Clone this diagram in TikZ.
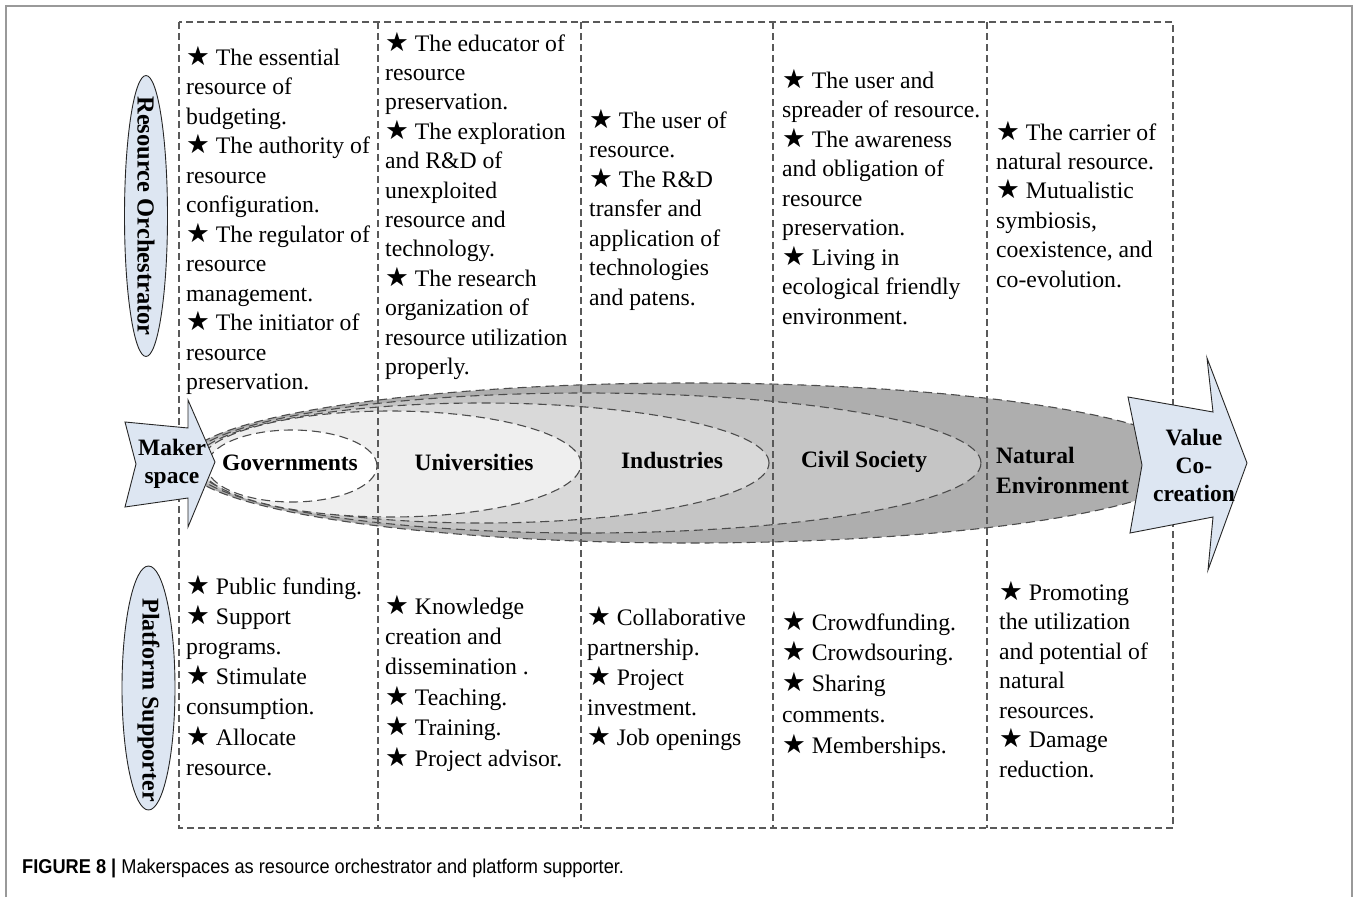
\documentclass[tikz,border=0pt]{standalone}
\usepackage{fontspec}
\setmainfont{Liberation Serif}
\newfontfamily\capfont[FakeStretch=0.91]{Liberation Sans}
\newfontfamily\symfont{DejaVu Sans}
\usetikzlibrary{shapes.geometric}
% star bullet followed by a word space
\newcommand\st{{\symfont\scalebox{1.12}{\char"2605}}\ }
% left-aligned block whose baseline is the first line
\newcommand\blk[1]{\begin{tabular}[t]{@{}l@{}}#1\end{tabular}}
\definecolor{roleblue}{RGB}{221,230,242}
\definecolor{gA}{RGB}{255,255,255}
\definecolor{gB}{RGB}{239,239,239}
\definecolor{gC}{RGB}{217,217,217}
\definecolor{gD}{RGB}{197,197,197}
\definecolor{gE}{RGB}{174,174,174}
\begin{document}
\begin{tikzpicture}[x=1pt,y=-1pt,
  frame/.style={draw=black!40, line width=1.4pt},
  grid/.style={draw=black!65, line width=1.1pt, dash pattern=on 7pt off 4pt},
  zone/.style={ellipse, draw=black!70, line width=1.1pt, dash pattern=on 9pt off 5pt, inner sep=0pt},
  role/.style={draw=black!85, fill=roleblue, line width=0.9pt},
  lab/.style={inner sep=0pt, font=\fontsize{23.5}{28}\selectfont\bfseries, align=center},
  txt/.style={anchor=base west, inner sep=0pt, font=\fontsize{23.7}{#1}\selectfont},
  txt/.default=29.5]
\useasboundingbox (0,0) rectangle (1357,897);
\fill[white] (0,0) rectangle (1357,897);

% page frame
\draw[frame] (6,897) -- (6,6) -- (1352,6) -- (1352,897);

% nested stakeholder zones
\node[zone, fill=gE, minimum width=1010pt, minimum height=160pt] (natE) at (690,463) {};
\node[zone, fill=gD, minimum width=791pt, minimum height=140pt] (civE) at (585.5,463) {};
\node[zone, fill=gC, minimum width=574pt, minimum height=120pt] (indE) at (482,463) {};
\node[zone, fill=gB, minimum width=381pt, minimum height=106pt] (uniE) at (390.5,464) {};
\node[zone, fill=gA, minimum width=170pt, minimum height=72pt] (govE) at (292,466) {};

\node[lab] (gov) at (290,463) {Governments};
\node[lab] (uni) at (474,462) {Universities};
\node[lab] (ind) at (672,460) {Industries};
\node[lab] (civ) at (864,462) {Civil Society};
\node[lab, align=left, anchor=west, font=\fontsize{23.5}{30}\selectfont\bfseries] (nat) at (996,470) {Natural\\Environment};

% dashed table
\draw[grid] (179,22) rectangle (1173,828);
\foreach \gx in {378,581,773,987}
  \draw[grid] (\gx,22) -- (\gx,828);

% flow arrows
\draw[role] (125,422) -- (188,428) -- (188,400) -- (215,462) -- (188,527)
  -- (188,498) -- (125,507) -- (136,464) -- cycle;
\node[lab] (maker) at (172,464) {Maker\\space};
\draw[role] (1128,397) -- (1213,412) -- (1207,358) -- (1247,463) -- (1208,570)
  -- (1213,517) -- (1130,533) -- (1142,465) -- cycle;
\node[lab] (value) at (1194,465) {Value\\Co-\\creation};

% role labels
\node[role, ellipse, inner sep=0pt, minimum width=43pt, minimum height=281pt] (orchE) at (146,216) {};
\node[lab, rotate=-90, font=\fontsize{24.5}{28}\selectfont\bfseries] (orch) at (orchE) {Resource Orchestrator};
\node[role, ellipse, inner sep=0pt, minimum width=53pt, minimum height=244pt] (suppE) at (148.5,688) {};
\node[lab, rotate=-90, font=\fontsize{24}{28}\selectfont\bfseries] (supp) at (148.5,700) {Platform Supporter};

% resource orchestrator roles
\node[txt] (t1) at (186,65) {\blk{\st The essential\\resource of\\budgeting.\\\st The authority of\\resource\\configuration.\\\st The regulator of\\resource\\management.\\\st The initiator of\\resource\\preservation.}};
\node[txt=29.4] (t2) at (385,51) {\blk{\st The educator of\\resource\\preservation.\\\st The exploration\\and R\&D of\\unexploited\\resource and\\technology.\\\st The research\\organization of\\resource utilization\\properly.}};
\node[txt] (t3) at (589,128) {\blk{\st The user of\\resource.\\\st The R\&D\\transfer and\\application of\\technologies\\and patens.}};
\node[txt] (t4) at (782,88) {\blk{\st The user and\\spreader of resource.\\\st The awareness\\and obligation of\\resource\\preservation.\\\st Living in\\ecological friendly\\environment.}};
\node[txt=29.4] (t5) at (996,140) {\blk{\st The carrier of\\natural resource.\\\st Mutualistic\\symbiosis,\\coexistence, and\\co-evolution.}};

% platform supporter roles
\node[txt=30.2] (b1) at (186,594) {\blk{\st Public funding.\\\st Support\\programs.\\\st Stimulate\\consumption.\\\st Allocate\\resource.}};
\node[txt=30.4] (b2) at (385,614) {\blk{\st Knowledge\\creation and\\dissemination .\\\st Teaching.\\\st Training.\\\st Project advisor.}};
\node[txt=30] (b3) at (587,625) {\blk{\st Collaborative\\partnership.\\\st Project\\investment.\\\st Job openings}};
\node[txt=30.75] (b4) at (782,630) {\blk{\st Crowdfunding.\\\st Crowdsouring.\\\st Sharing\\comments.\\\st Memberships.}};
\node[txt] (b5) at (999,600) {\blk{\st Promoting\\the utilization\\and potential of\\natural\\resources.\\\st Damage\\reduction.}};

% caption
\node[anchor=base west, inner sep=0pt, font=\capfont\fontsize{20}{23}\selectfont] (cap) at (22,873)
  {\textbf{FIGURE 8 |} Makerspaces as resource orchestrator and platform supporter.};
\end{tikzpicture}
\end{document}
